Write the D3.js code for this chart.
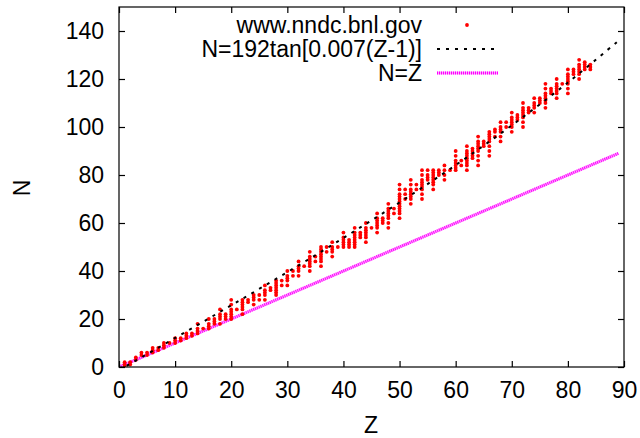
<!DOCTYPE html>
<html>
<head>
<meta charset="utf-8">
<script src="https://cdn.jsdelivr.net/npm/d3@7/dist/d3.min.js"></script>
<style>
  html, body { margin: 0; padding: 0; background: #fff; }
  svg { display: block; }
  text { font-family: "Liberation Sans", Arial, Helvetica, sans-serif; fill: #000; }
</style>
</head>
<body>
<svg id="chart" width="640" height="438"></svg>
<script>
// ---- data ----
// neutron numbers N of the nuclides listed for each proton number Z (index = Z)
const nuclideN = [
  [], [0,1,2], [1,2], [3,4], [5,6], [5,6], [6,7,8], [7,8], [8,9,10], [10],
  [10,11,12], [11,12], [12,13,14], [13,14], [14,15,16,18], [16], [16,17,18,20], [18,19,20], [18,20,21,22,24], [20,21,22],
  [20,21,22,23,24,26,28], [24], [22,24,25,26,27,28], [27,28], [26,28,29,30], [28,30], [28,30,31,32,34], [32,33], [30,31,32,33,34,35,36], [34,36],
  [34,36,37,38,40], [38,40], [38,40,41,42,44], [42], [40,42,43,44,45,46,48], [44,46], [42,44,45,46,47,48,49,50], [48,50], [46,48,49,50,52], [50],
  [50,51,52,53,54,56], [50,51,52,53], [50,51,52,53,54,55,56,58], [54,55,56], [52,54,55,56,57,58,60], [58], [56,58,59,60,61,62,64], [60,61,62], [58,60,62,63,64,65,66,68], [64,66],
  [62,64,65,66,67,68,69,70,71,72,74,76], [70,72,74], [68,70,71,72,73,74,76,78], [74,76], [70,72,74,75,76,77,78,80,82], [78,79,80,82], [74,76,77,78,79,80,81,82], [80,81,82], [78,80,82,84], [82],
  [82,83,84,85,86,88,90], [84,86], [82,84,85,86,87,88,89,90,92], [87,88,89,90,91], [84,86,88,90,91,92,93,94,96], [92,93,94], [88,90,92,94,95,96,97,98], [96,98,99], [94,96,98,99,100,102], [100,102],
  [98,100,101,102,103,104,106], [103,104,105], [100,102,104,105,106,107,108,110], [106,107,108], [106,108,109,110,112], [110,111,112], [108,110,111,112,113,114,116,118], [114,115,116], [112,114,115,116,117,118,120], [118],
  [114,116,118,119,120,121,122,124], [122,123,124], [120,122,123,124,125,126,128], [124,125,126,127], [124,125,126]
];

// sampled points of N = 192 tan[0.007(Z-1)]
const curveZ = [0, 10, 20, 30, 40, 50, 60, 70, 80, 89];
const curveN = [-1.34, 12.11, 25.69, 39.52, 53.76, 68.57, 84.13, 100.69, 118.51, 135.91];

// N = Z line
const diagZ = [0, 89];
const diagN = [0, 89];

const xTicks = [0, 10, 20, 30, 40, 50, 60, 70, 80, 90];
const yTicks = [0, 20, 40, 60, 80, 100, 120, 140];
const legendLabels = ["www.nndc.bnl.gov", "N=192tan[0.007(Z-1)]", "N=Z"];
const xTitle = "Z";
const yTitle = "N";

// ---- drawing ----
const svg = d3.select("#chart");
const L = 119, R = 624, T = 7, B = 367;
const x = d3.scaleLinear().domain([0, 90]).range([L, R]);
const y = d3.scaleLinear().domain([0, 150]).range([B, T]);
const FS = 23;

svg.append("defs").append("clipPath").attr("id", "clip")
  .append("rect").attr("x", L).attr("y", T).attr("width", R - L).attr("height", B - T);

const plot = svg.append("g").attr("clip-path", "url(#clip)");

const points = [];
nuclideN.forEach((ns, z) => ns.forEach(n => points.push({z, n})));

const line = d3.line().x(d => x(d[0])).y(d => y(d[1]));

// N = Z (magenta, finely dotted)
const diagData = d3.zip(diagZ, diagN);
plot.append("path").datum(diagData).attr("d", line)
  .attr("fill", "none").attr("stroke", "#ffa6ff").attr("stroke-width", 3);
plot.append("path").datum(diagData).attr("d", line)
  .attr("fill", "none").attr("stroke", "#ff00ff").attr("stroke-width", 3)
  .attr("stroke-dasharray", "1,1");

// red points
plot.append("g").selectAll("circle").data(points).join("circle")
  .attr("cx", d => x(d.z)).attr("cy", d => y(d.n)).attr("r", 1.9)
  .attr("fill", "#ff0000");

// tan curve (black dotted)
const curveLine = d3.line().x(d => x(d[0])).y(d => y(d[1])).curve(d3.curveCatmullRom);
plot.append("path").datum(d3.zip(curveZ, curveN)).attr("d", curveLine)
  .attr("fill", "none").attr("stroke", "#000").attr("stroke-width", 2)
  .attr("stroke-dasharray", "3,6");

// axes with inward ticks (mirrored)
svg.append("g").attr("transform", `translate(0,${B})`)
  .call(d3.axisBottom(x).tickValues(xTicks).tickSizeInner(-6).tickSizeOuter(0).tickPadding(15));
svg.append("g").attr("transform", `translate(${L},0)`)
  .call(d3.axisLeft(y).tickValues(yTicks).tickSizeInner(-6).tickSizeOuter(0).tickPadding(15));
svg.append("g").attr("transform", `translate(0,${T})`)
  .call(d3.axisTop(x).tickValues(xTicks).tickSizeInner(-6).tickSizeOuter(0).tickFormat(""));
svg.append("g").attr("transform", `translate(${R},0)`)
  .call(d3.axisRight(y).tickValues(yTicks).tickSizeInner(-6).tickSizeOuter(0).tickFormat(""));

svg.selectAll(".domain").remove();
svg.selectAll(".tick line").attr("stroke", "#000").attr("stroke-width", 1.2);
svg.selectAll(".tick text").attr("font-size", FS).attr("font-family", null).style("fill", "#000");

// border
svg.append("rect").attr("x", L).attr("y", T).attr("width", R - L).attr("height", B - T)
  .attr("fill", "none").attr("stroke", "#000").attr("stroke-width", 1.2);

// axis titles
svg.append("text").attr("x", (L + R) / 2 - 0.5).attr("y", 433)
  .attr("text-anchor", "middle").attr("font-size", FS).text(xTitle);
svg.append("text").attr("transform", "translate(30,188) rotate(-90)")
  .attr("text-anchor", "middle").attr("font-size", FS).text(yTitle);

// legend
const legY = [25, 49, 73];
const lg = svg.append("g");
legendLabels.forEach((t, i) => {
  lg.append("text").attr("x", 422).attr("y", legY[i] + 8)
    .attr("text-anchor", "end").attr("font-size", FS).text(t);
});
lg.append("circle").attr("cx", 467).attr("cy", legY[0]).attr("r", 1.9).attr("fill", "#ff0000");
lg.append("line").attr("x1", 437).attr("x2", 498).attr("y1", legY[1]).attr("y2", legY[1])
  .attr("stroke", "#000").attr("stroke-width", 2).attr("stroke-dasharray", "3,6");
lg.append("line").attr("x1", 437).attr("x2", 498).attr("y1", legY[2]).attr("y2", legY[2])
  .attr("stroke", "#ffa6ff").attr("stroke-width", 3);
lg.append("line").attr("x1", 437).attr("x2", 498).attr("y1", legY[2]).attr("y2", legY[2])
  .attr("stroke", "#ff00ff").attr("stroke-width", 3).attr("stroke-dasharray", "1,1");
</script>
</body>
</html>
